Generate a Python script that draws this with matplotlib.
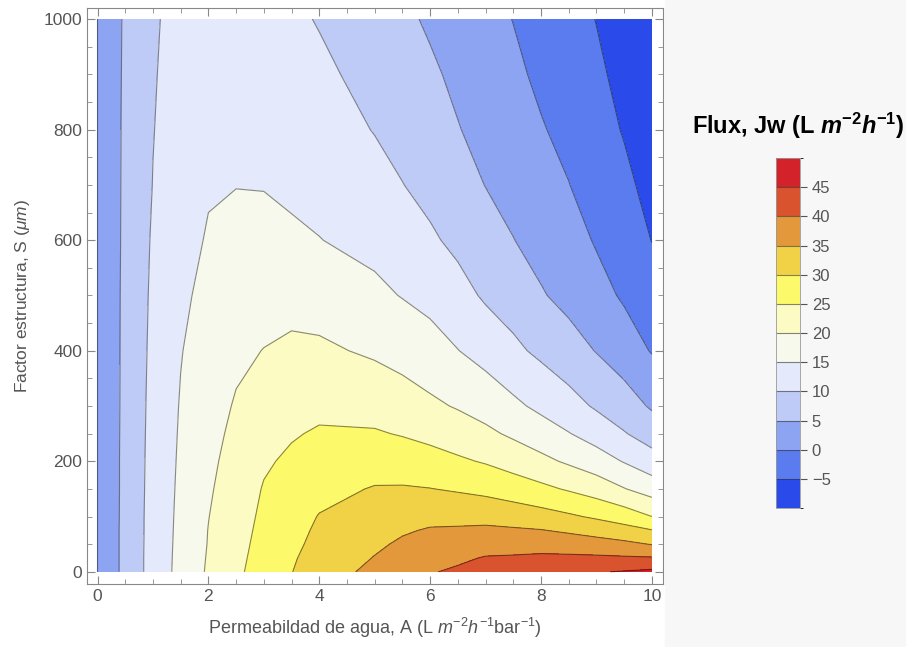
import numpy as np
import matplotlib.pyplot as plt
from matplotlib.colors import ListedColormap, BoundaryNorm
from matplotlib.patches import Rectangle
from matplotlib.ticker import AutoMinorLocator

plt.rcParams['font.family'] = ['Liberation Sans', 'DejaVu Sans']
plt.rcParams['mathtext.fontset'] = 'custom'
plt.rcParams['mathtext.rm'] = 'Liberation Sans'
plt.rcParams['mathtext.it'] = 'Liberation Sans:italic'
plt.rcParams['mathtext.bf'] = 'Liberation Sans:bold'
plt.rcParams['mathtext.bfit'] = 'Liberation Sans:bold:italic'

# Grid: water permeability A and structure factor S
A_vals = [0, 0.5, 1, 1.5, 2, 2.5, 3, 3.5, 4, 5, 5.5, 6, 6.5, 7, 7.5, 8, 8.5, 9, 9.5, 10]
S_vals = [0, 25, 50, 75, 100, 150, 200, 250, 300, 400, 500, 600, 700, 800, 900, 1000]

# Flux Jw (L m-2 h-1) at each S, one list per A column
flux_A0 = [0] * 16
flux_A0_5 = [6.4, 6.4, 6.4, 6.4, 6.35, 6.3, 6.3, 6.25, 6.2, 6.15, 6.1, 6.0, 5.95, 5.9, 5.8, 5.7]
flux_A1 = [11.8, 11.8, 11.75, 11.7, 11.7, 11.6, 11.5, 11.4, 11.3, 11.05, 10.8, 10.5, 10.1, 9.87, 9.7, 9.6]
flux_A1_5 = [16.5, 16.4, 16.3, 16.2, 16.1, 15.9, 15.7, 15.5, 15.3, 14.8, 14.1, 13.3, 12.7, 12.1, 11.6, 11.1]
flux_A2 = [20.6, 20.4, 20.2, 20.1, 19.9, 19.45, 19.0, 18.6, 18.1, 17.2, 16.3, 15.4, 14.6, 14.0, 13.4, 12.8]
flux_A2_5 = [24.1, 23.8, 23.5, 23.2, 22.9, 22.3, 21.7, 21.0, 20.4, 19.1, 17.7, 16.3, 14.9, 14.2, 13.6, 13.0]
flux_A3 = [27.1, 26.8, 26.5, 26.2, 25.9, 25.3, 24.4, 23.3, 22.3, 20.1, 18.3, 16.5, 14.8, 14.0, 13.1, 12.3]
flux_A3_5 = [29.9, 29.5, 29.0, 28.6, 28.1, 27.0, 25.8, 24.6, 23.4, 20.9, 18.4, 16.1, 13.8, 12.8, 11.8, 10.9]
flux_A4 = [32.3, 31.8, 31.2, 30.7, 30.2, 28.6, 27.1, 25.5, 23.9, 20.8, 17.9, 15.1, 13.7, 12.3, 11.0, 9.7]
flux_A5 = [36.4, 35.2, 34.2, 33.3, 32.3, 30.3, 27.9, 25.4, 23.3, 19.3, 16.0, 13.7, 11.7, 9.8, 8.4, 7.2]
flux_A5_5 = [38.0, 36.9, 35.7, 34.5, 33.2, 30.4, 27.5, 24.7, 22.3, 18.2, 14.8, 12.5, 10.1, 8.5, 7.1, 5.9]
flux_A6 = [39.7, 38.3, 36.8, 35.4, 33.7, 30.1, 26.8, 23.7, 20.9, 16.9, 13.6, 10.7, 8.6, 7.0, 5.7, 4.4]
flux_A6_5 = [40.7, 39.2, 37.4, 35.6, 33.6, 29.5, 25.7, 22.5, 19.6, 15.1, 11.7, 8.9, 6.85, 5.2, 4.1, 3.0]
flux_A7 = [41.5, 40.3, 38.1, 35.9, 33.5, 28.7, 24.6, 21.0, 18.1, 13.2, 9.35, 7.0, 4.9, 3.6, 2.4, 1.5]
flux_A7_5 = [42.3, 40.5, 38.2, 35.6, 32.8, 27.5, 23.0, 19.2, 16.0, 11.0, 7.8, 5.1, 3.5, 2.2, 0.95, -0.1]
flux_A8 = [43.4, 40.9, 38.1, 35.2, 31.9, 26.1, 21.2, 17.3, 13.9, 9.0, 5.4, 3.4, 1.8, 0.35, -0.9, -1.8]
flux_A8_5 = [44.0, 40.9, 37.6, 34.3, 30.7, 24.5, 19.3, 15.2, 11.8, 7.0, 3.6, 1.8, 0.1, -1.3, -2.4, -3.4]
flux_A9 = [44.7, 40.8, 37.0, 33.1, 29.3, 22.7, 17.3, 12.9, 9.4, 4.8, 1.6, -0.4, -2.1, -3.3, -4.3, -5.1]
flux_A9_5 = [45.3, 40.6, 36.1, 31.8, 27.6, 20.2, 14.7, 10.3, 7.3, 2.4, -0.6, -2.45, -4.0, -5.3, -6.1, -6.8]
flux_A10 = [46.0, 40.4, 34.8, 30.2, 25.0, 17.8, 12.0, 7.8, 4.4, -0.3, -2.7, -5.1, -6.4, -7.2, -7.9, -8.6]

columns = [flux_A0, flux_A0_5, flux_A1, flux_A1_5, flux_A2, flux_A2_5, flux_A3, flux_A3_5,
           flux_A4, flux_A5, flux_A5_5, flux_A6, flux_A6_5, flux_A7, flux_A7_5, flux_A8,
           flux_A8_5, flux_A9, flux_A9_5, flux_A10]
Z = np.column_stack(columns)

levels = [-10, -5, 0, 5, 10, 15, 20, 25, 30, 35, 40, 45, 50]
band_colors = ['#2a4bea', '#5b7cee', '#8ca4f2', '#bfcbf7', '#e4e9fb', '#f7f9ec',
               '#fcfbc3', '#fcf96b', '#f1d247', '#e2983b', '#d9532e', '#d3222a']
cmap = ListedColormap(band_colors)
norm = BoundaryNorm(levels, cmap.N)

fig = plt.figure(figsize=(9.06, 6.47), dpi=100)
# grey panel behind the legend
fig.patches.append(Rectangle((0.734, 0), 0.266, 1, transform=fig.transFigure,
                             color='#f7f7f7', zorder=-1))

ax = fig.add_axes([0.096, 0.0974, 0.6358, 0.8902])
cf = ax.contourf(A_vals, S_vals, Z, levels=levels, cmap=cmap, norm=norm)
ax.contour(A_vals, S_vals, Z, levels=levels[1:-1], colors='k', alpha=0.45,
           linewidths=0.8, negative_linestyles='solid')

ax.set_xlim(-0.19, 10.2)
ax.set_ylim(-22, 1020)
ax.set_xticks(range(0, 11, 2))
ax.set_yticks(range(0, 1001, 200))
ax.xaxis.set_minor_locator(AutoMinorLocator(4))
ax.yaxis.set_minor_locator(AutoMinorLocator(4))
ax.tick_params(which='both', direction='in', top=True, right=True,
               colors='#888888', labelcolor='#555555', labelsize=12.5)
ax.tick_params(which='major', length=6)
ax.tick_params(which='minor', length=3.5)
for sp in ax.spines.values():
    sp.set_color('#888888')

ax.set_xlabel(r'Permeabildad de agua, A (L $m^{-2}h^{-1}$bar$^{-1}$)',
              color='#555555', fontsize=13, labelpad=9)
ax.set_ylabel(r'Factor estructura, S ($\mu m$)', color='#555555', fontsize=12.5, labelpad=8)

# colorbar legend
cax = fig.add_axes([0.8565, 0.2148, 0.0265, 0.541])
cb = fig.colorbar(cf, cax=cax, ticks=range(-5, 50, 5), drawedges=True)
cb.dividers.set_color('#333333')
cb.dividers.set_alpha(0.6)
cb.dividers.set_linewidth(0.8)
cb.outline.set_edgecolor('#999999')
cb.outline.set_linewidth(0.6)
cax.tick_params(direction='out', length=5, colors='#555555', labelsize=12)

fig.text(692 / 906, 1 - 134 / 647,
         r'Flux, Jw (L $\mathbfit{m}^{\mathbf{-2}}\mathbfit{h}^{\mathbf{-1}}$)',
         fontweight='bold', fontsize=17, ha='left', va='baseline')

plt.savefig('out.png', dpi=100)
